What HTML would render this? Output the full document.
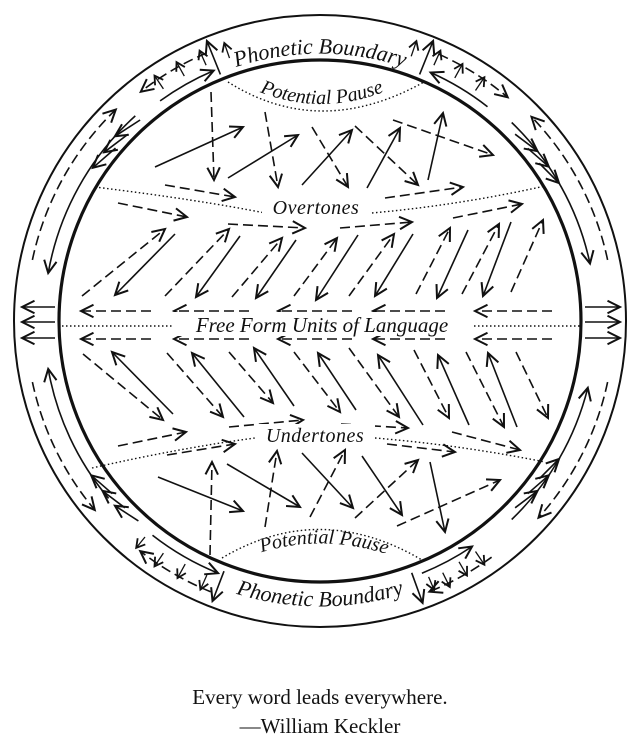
<!DOCTYPE html>
<html><head><meta charset="utf-8">
<style>
html,body{margin:0;padding:0;background:#fff;}
svg{display:block;}
.t{font-family:"Liberation Serif",serif;font-style:italic;fill:#111;}
</style></head>
<body>
<svg id="s" width="640" height="752" viewBox="0 0 640 752" xmlns="http://www.w3.org/2000/svg">
<defs>
<marker id="h" markerUnits="userSpaceOnUse" markerWidth="20" markerHeight="20" refX="0" refY="0" viewBox="-12 -8 14 16" orient="auto">
<path d="M-10,-5 L0,0 L-10,5" fill="none" stroke="#111" stroke-width="1.6"/>
</marker>
<marker id="hs" markerUnits="userSpaceOnUse" markerWidth="14" markerHeight="14" refX="0" refY="0" viewBox="-8 -5 10 10" orient="auto">
<path d="M-6,-3.5 L0,0 L-6,3.5" fill="none" stroke="#111" stroke-width="1.3"/>
</marker>
<path id="tp1" d="M 200 82 A 268 268 0 0 1 440 82"/>
<path id="bp1" d="M 200 580 A 286 286 0 0 0 440 580"/>
<path id="tpp" d="M 242 84 Q 320 124 402 84"/>
<path id="bpp" d="M 240 560 Q 322 526 408 562"/>
</defs>
<circle cx="320" cy="321" r="306" fill="none" stroke="#111" stroke-width="2"/>
<circle cx="320" cy="321" r="261" fill="none" stroke="#111" stroke-width="3.2"/>
<g fill="none" stroke="#111" stroke-width="1.4" stroke-dasharray="1.5 2.5">
<path d="M 228 82 Q 320 140 424 82"/>
<path d="M 95 187 Q 200 200 265 213"/>
<path d="M 372 213 Q 460 205 545 186"/>
<path d="M 62 326 L 175 326"/>
<path d="M 470 326 L 580 326"/>
<path d="M 92 468 Q 180 448 255 438"/>
<path d="M 375 438 Q 460 445 545 462"/>
<path d="M 222 558 Q 320 500 422 560"/>
</g>
<g id="arrows" fill="none" stroke="#111" stroke-width="1.6"></g>
<text class="t" font-size="22"><textPath href="#tp1" startOffset="50%" text-anchor="middle">Phonetic Boundary</textPath></text>
<text class="t" font-size="22"><textPath href="#bp1" startOffset="50%" text-anchor="middle">Phonetic Boundary</textPath></text>
<text class="t" font-size="20"><textPath href="#tpp" startOffset="50%" text-anchor="middle">Potential Pause</textPath></text>
<text class="t" font-size="20"><textPath href="#bpp" startOffset="50%" text-anchor="middle">Potential Pause</textPath></text>
<rect x="262" y="196" width="108" height="22" fill="#fff"/>
<text class="t" x="316" y="214" font-size="20" text-anchor="middle" letter-spacing="0.5">Overtones</text>
<rect x="172" y="312" width="300" height="24" fill="#fff"/>
<text class="t" x="322" y="332" font-size="21" text-anchor="middle">Free Form Units of Language</text>
<rect x="255" y="424" width="120" height="22" fill="#fff"/>
<text class="t" x="315" y="442" font-size="20" text-anchor="middle" letter-spacing="0.5">Undertones</text>
<text x="320" y="704" font-family="Liberation Serif, serif" font-size="21" text-anchor="middle" fill="#111">Every word leads everywhere.</text>
<text x="320" y="733" font-family="Liberation Serif, serif" font-size="21" text-anchor="middle" fill="#111">—William Keckler</text>
</svg>
<script>
var g=document.getElementById('arrows');var NS='http://www.w3.org/2000/svg';
function L(x1,y1,x2,y2,d,sm){var p=document.createElementNS(NS,'path');p.setAttribute('d','M'+x1+' '+y1+' L'+x2+' '+y2);if(d)p.setAttribute('stroke-dasharray','10 5');p.setAttribute('marker-end',sm?'url(#hs)':'url(#h)');if(sm)p.setAttribute('stroke-width','1.3');g.appendChild(p);}
var cx=320,cy=321;
function A(r,a1,a2,d,sm){var t1=a1*Math.PI/180,t2=a2*Math.PI/180;var x1=cx+r*Math.cos(t1),y1=cy+r*Math.sin(t1),x2=cx+r*Math.cos(t2),y2=cy+r*Math.sin(t2);var sw=a2>a1?1:0;var p=document.createElementNS(NS,'path');p.setAttribute('d','M'+x1.toFixed(1)+' '+y1.toFixed(1)+' A'+r+' '+r+' 0 0 '+sw+' '+x2.toFixed(1)+' '+y2.toFixed(1));if(d)p.setAttribute('stroke-dasharray','10 5');p.setAttribute('marker-end',sm?'url(#hs)':'url(#h)');g.appendChild(p);}
function R(a,r1,r2,sm){var t=a*Math.PI/180;L((cx+r1*Math.cos(t)).toFixed(1),(cy+r1*Math.sin(t)).toFixed(1),(cx+r2*Math.cos(t)).toFixed(1),(cy+r2*Math.sin(t)).toFixed(1),false,sm);}
function Tk(a,r,len,ang,sm){var t=a*Math.PI/180;var x=cx+r*Math.cos(t),y=cy+r*Math.sin(t);var u=(a+ang)*Math.PI/180;L((x-len*Math.cos(u)).toFixed(1),(y-len*Math.sin(u)).toFixed(1),x.toFixed(1),y.toFixed(1),false,sm);}
// top section
L(211,92,214,180,1);L(155,167,243,127);L(228,178,298,135);L(265,112,278,187,1);
L(302,185,352,130);L(312,127,348,187,1);L(355,126,418,185,1);L(367,188,400,128);
L(428,180,443,113);L(393,120,493,155,1);L(165,185,235,197,1);L(385,198,463,187,1);
L(118,203,187,217,1);L(228,224,305,228,1);L(340,228,412,222,1);L(453,218,522,204,1);
L(82,296,165,229,1);L(175,234,115,295);
L(165,296,229,229,1);L(240,236,196,297);
L(232,297,282,238,1);L(296,240,256,298);
L(294,296,337,238,1);L(358,235,316,300);
L(349,296,394,234,1);L(413,234,375,296);
L(416,294,450,228,1);L(468,230,437,298);
L(462,294,499,224,1);L(511,222,483,296);
L(511,292,543,220,1);
[[151,81],[249,174],[352,278],[445,373],[552,475]].forEach(function(s){L(s[0],311,s[1],311,1);L(s[0],339,s[1],339,1);});
L(83,354,163,420,1);L(173,414,112,352);
L(167,353,223,417,1);L(244,417,192,353);
L(229,352,273,403,1);L(294,406,254,348);
L(294,352,340,412,1);L(356,410,318,353);
L(349,348,399,417,1);L(423,425,378,355);
L(414,350,449,418,1);L(469,425,438,355);
L(466,352,504,427,1);L(517,427,488,353);
L(516,352,548,418,1);
L(229,427,303,420,1);L(341,424,408,428,1);L(452,432,520,450,1);L(118,446,186,432,1);
L(210,555,212,462,1);L(158,477,243,511);L(227,464,300,507);L(265,527,277,451,1);
L(302,453,353,508);L(310,517,345,450,1);L(362,456,402,515);L(355,518,418,460,1);
L(430,462,445,532);L(397,526,500,480,1);L(167,455,235,444,1);L(387,444,455,452,1);
L(55,307,22,307);L(55,322,22,322);L(55,338,22,338);
L(585,307,620,307);L(585,322,620,322);L(585,338,620,338);
// ring: left
A(294,168,140,1);A(276,140,170);A(294,192,226,1);A(276,228,190);
A(291,247,232,1);A(272,234,247);
R(236,280,296,1);R(241,280,296,1);R(246,280,296,1);R(251,278,294,1);
R(248,266,302);
Tk(214,274,30,-75);Tk(218,274,30,-75);Tk(222,276,30,-75);
Tk(146,276,28,75);Tk(142,276,28,75);Tk(138,276,28,75);
A(292,112,128,1);A(272,128,112);R(114,278,294,1);R(119,278,294,1);R(124,280,296,1);R(129,278,292,1);
R(111,268,300);
// ring: right
A(294,12,42,1);A(276,46,14);A(294,-12,-44,1);A(276,-46,-12);
A(292,-66,-50,1);A(272,-52,-66);R(-56,278,294,1);R(-61,278,294,1);R(-66,280,296,1);R(-71,280,296,1);
R(-68,266,302);
Tk(-34,276,28,75);Tk(-38,276,28,75);Tk(-30,276,28,75);
Tk(34,276,28,-75);Tk(38,276,28,-75);Tk(30,276,28,-75);
A(292,54,68,1);A(272,68,56);R(56,278,294,1);R(60,278,294,1);R(64,280,296,1);R(67,278,292,1);
R(70,268,300);
</script>
</body></html>
